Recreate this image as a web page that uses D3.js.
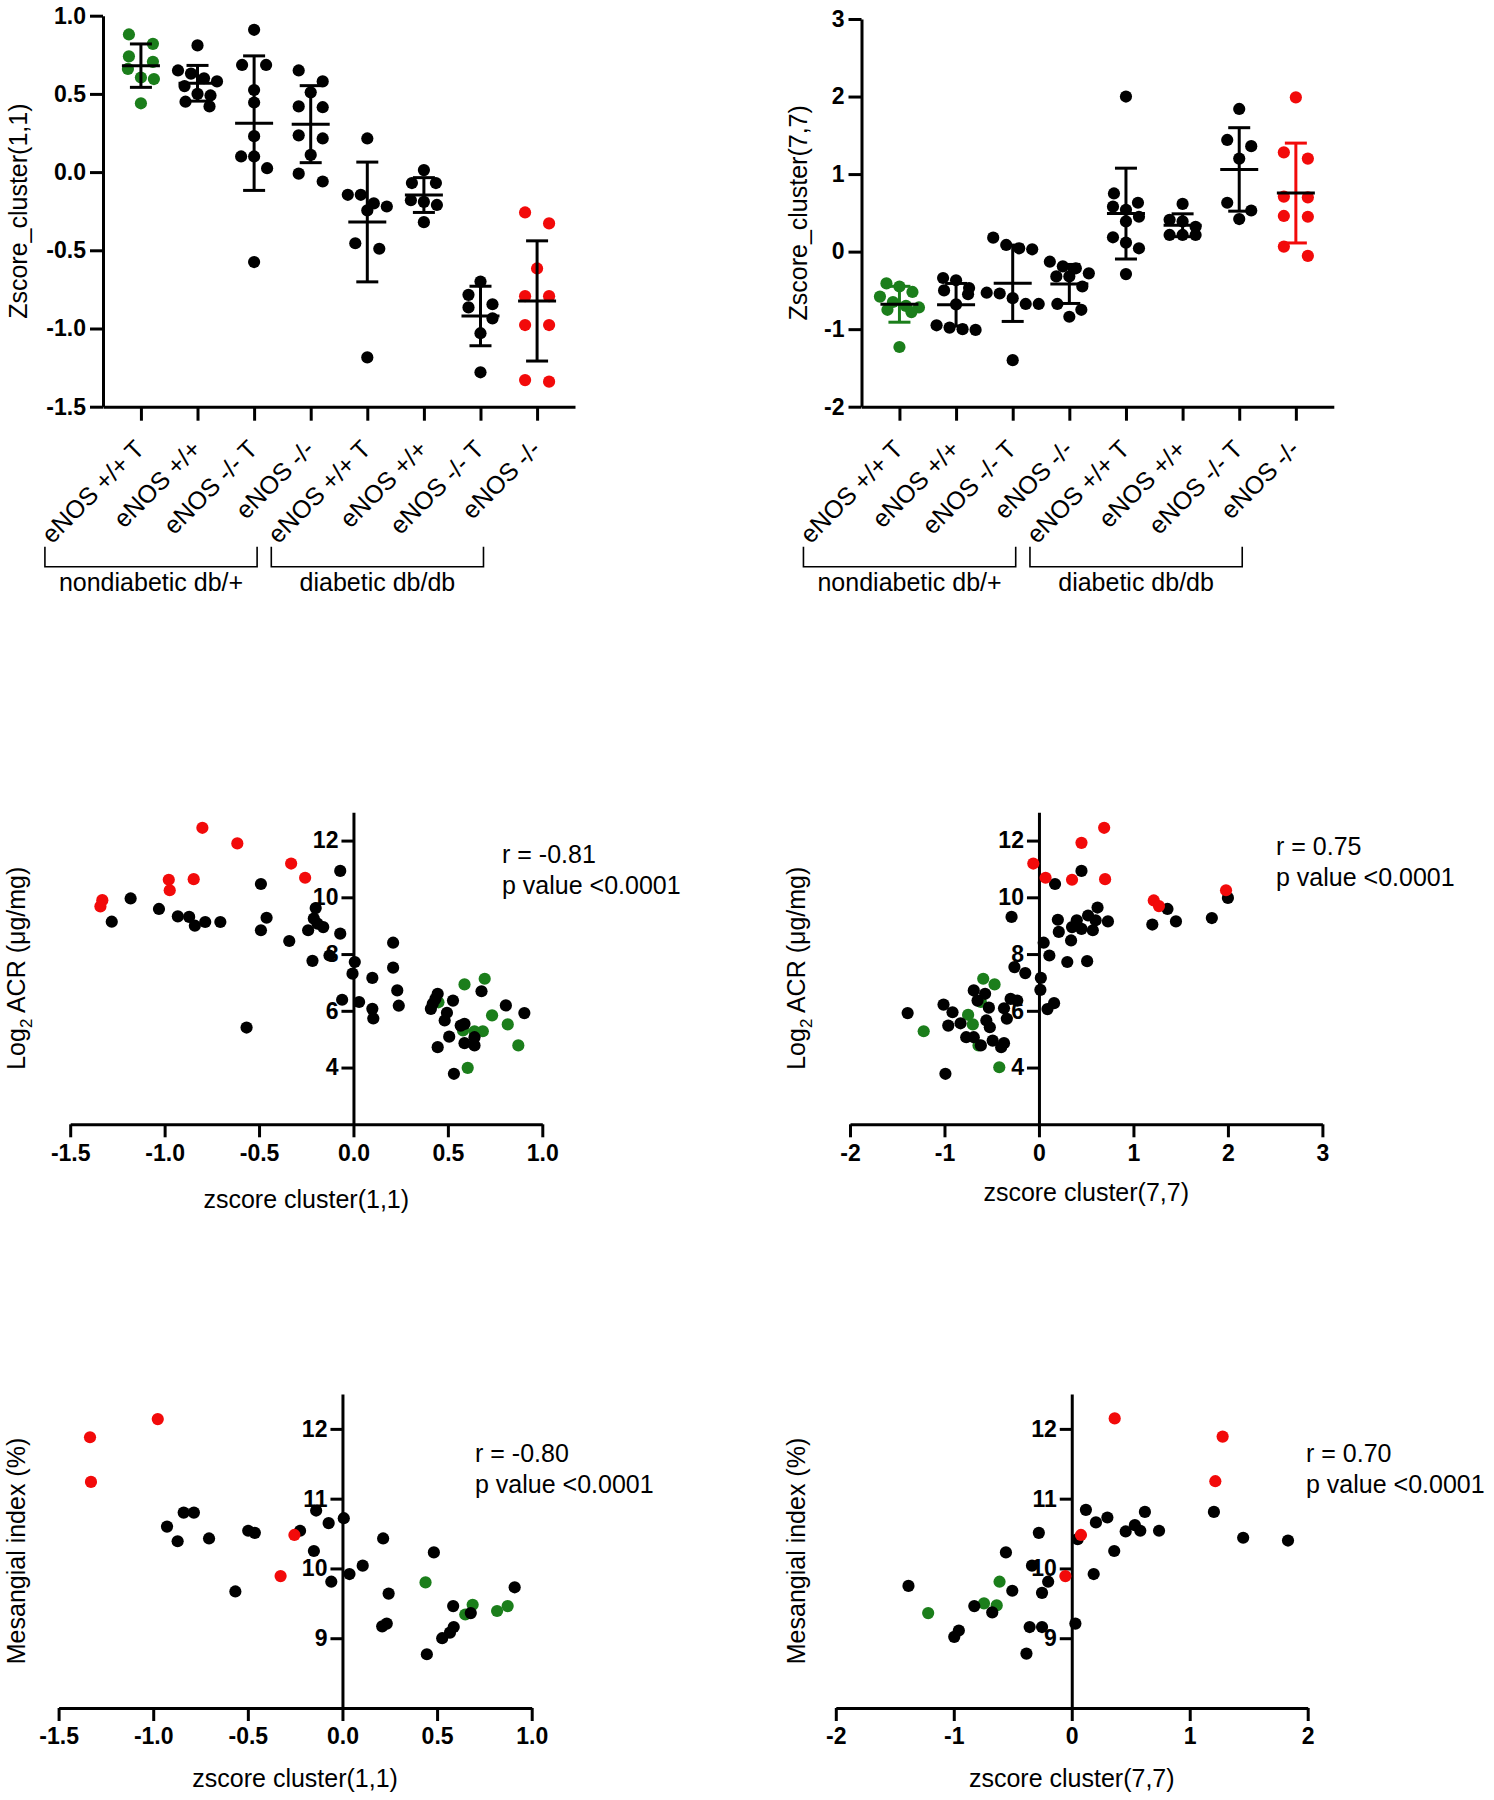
<!DOCTYPE html>
<html>
<head>
<meta charset="utf-8">
<script src="https://cdn.jsdelivr.net/npm/d3@7"></script>
<style>
  body { margin: 0; background: #fff; }
  svg { display: block; font-family: "Liberation Sans", Arial, sans-serif; }
  .axis { font-family: "Liberation Sans", Arial, sans-serif; }
  .axis path, .axis line { stroke: #000; stroke-width: 3; }
  .axis text { font-size: 23px; font-weight: bold; fill: #000; }
</style>
</head>
<body>
<svg id="fig" width="1494" height="1800"></svg>
<script>
const GREEN = "#1b7e1b", RED = "#f20a0a", BLACK = "#000";

// group dot plots
const groupLabels = ["eNOS +/+ T", "eNOS +/+", "eNOS -/- T", "eNOS -/-",
                     "eNOS +/+ T", "eNOS +/+", "eNOS -/- T", "eNOS -/-"];
const groupDots = [GREEN, BLACK, BLACK, BLACK, BLACK, BLACK, BLACK, RED];
const bracketLabels = ["nondiabetic db/+", "diabetic db/db"];

const cluster11 = [
  [0.88, 0.82, 0.74, 0.705, 0.66, 0.605, 0.595, 0.44],
  [0.81, 0.65, 0.63, 0.60, 0.58, 0.55, 0.50, 0.49, 0.45, 0.42],
  [0.91, 0.685, 0.685, 0.525, 0.445, 0.23, 0.10, 0.10, 0.025, -0.575],
  [0.65, 0.58, 0.51, 0.42, 0.415, 0.235, 0.215, 0.11, -0.01, -0.06],
  [0.215, -0.145, -0.145, -0.2, -0.22, -0.245, -0.455, -0.49, -1.185],
  [0.013, -0.07, -0.07, -0.18, -0.19, -0.21, -0.32],
  [-0.70, -0.785, -0.845, -0.865, -0.935, -1.03, -1.28],
  [-0.258, -0.328, -0.616, -0.793, -0.793, -0.978, -0.978, -1.34, -1.33]
];
const cluster77 = [
  [-0.41, -0.45, -0.52, -0.58, -0.65, -0.70, -0.72, -0.75, -0.78, -1.23],
  [-0.34, -0.37, -0.47, -0.50, -0.55, -0.68, -0.95, -0.98, -1.0, -1.01],
  [0.18, 0.086, 0.043, 0.03, -0.53, -0.54, -0.6, -0.675, -0.675, -1.40],
  [-0.13, -0.19, -0.215, -0.28, -0.32, -0.32, -0.45, -0.675, -0.75, -0.84],
  [2.0, 0.75, 0.63, 0.58, 0.54, 0.45, 0.39, 0.185, 0.116, 0.043, -0.29],
  [0.615, 0.41, 0.39, 0.32, 0.215, 0.215, 0.215],
  [1.84, 1.44, 1.36, 1.2, 0.63, 0.53, 0.42],
  [1.99, 1.28, 1.2, 0.71, 0.70, 0.46, 0.45, 0.065, -0.055]
];
const cluster11Ticks = [-1.5, -1.0, -0.5, 0.0, 0.5, 1.0];
const cluster77Ticks = [-2, -1, 0, 1, 2, 3];

// ACR scatter [zscore, log2 ACR]
const acr11Green = [[0.588, 6.93], [0.695, 7.13], [0.734, 5.84], [0.817, 5.52], [0.685, 5.28],
  [0.641, 5.28], [0.58, 5.31], [0.873, 4.78], [0.605, 3.99], [0.45, 6.3]];
const acr11Black = [[-0.07, 10.93], [-0.49, 10.47], [-1.18, 9.96], [-1.03, 9.59], [-0.93, 9.33],
  [-0.87, 9.31], [-0.84, 9.0], [-0.785, 9.13], [-0.705, 9.13], [-1.28, 9.14], [-0.46, 9.28],
  [-0.49, 8.84], [-0.34, 8.46], [-0.20, 9.62], [-0.21, 9.25], [-0.19, 9.07], [-0.24, 8.84],
  [-0.16, 8.95], [-0.07, 8.72], [-0.217, 7.76], [-0.127, 7.95], [0.007, 7.72], [-0.005, 7.31],
  [0.10, 7.16], [0.21, 8.4], [0.21, 7.52], [0.232, 6.72], [0.24, 6.18], [-0.06, 6.39],
  [0.03, 6.31], [0.10, 6.07], [0.105, 5.73], [-0.566, 5.41], [0.446, 6.6], [0.434, 6.42],
  [0.42, 6.25], [0.41, 6.07], [0.527, 6.36], [0.495, 5.93], [0.483, 5.66], [0.568, 5.48],
  [0.588, 5.54], [0.678, 6.69], [0.807, 6.19], [0.905, 5.92], [0.507, 5.09], [0.446, 4.72],
  [0.588, 4.86], [0.641, 5.07], [0.641, 4.78], [0.532, 3.78]];
const acr11Red = [[-0.80, 12.45], [-0.615, 11.9], [-0.33, 11.19], [-0.256, 10.69], [-0.978, 10.62],
  [-0.846, 10.64], [-0.973, 10.25], [-1.33, 9.9], [-1.34, 9.68]];

const acr77Green = [[-0.59, 7.13], [-0.47, 6.93], [-0.75, 5.86], [-0.70, 5.52], [-1.22, 5.28],
  [-0.64, 4.78], [-0.42, 4.01], [-0.615, 6.31]];
const acr77Black = [[0.45, 10.93], [0.17, 10.47], [2.0, 9.98], [1.36, 9.59], [1.45, 9.15],
  [1.83, 9.27], [1.20, 9.04], [-0.29, 9.31], [0.62, 9.64], [0.52, 9.36], [0.6, 9.19],
  [0.73, 9.15], [0.40, 9.19], [0.2, 9.21], [0.21, 8.78], [0.35, 8.95], [0.45, 8.89],
  [0.57, 8.84], [0.34, 8.48], [0.05, 8.4], [0.11, 7.95], [0.30, 7.72], [0.51, 7.75],
  [-0.26, 7.54], [-0.145, 7.33], [0.02, 7.16], [0.015, 6.74], [0.16, 6.27], [0.09, 6.06],
  [-0.30, 6.42], [-0.23, 6.36], [-0.37, 6.09], [-0.34, 5.72], [-0.53, 6.11], [-0.57, 6.6],
  [-0.69, 6.72], [-0.65, 6.36], [-1.01, 6.22], [-0.915, 5.95], [-1.39, 5.92], [-0.96, 5.48],
  [-0.83, 5.56], [-0.557, 5.66], [-0.52, 5.42], [-0.77, 5.07], [-0.69, 5.07], [-0.615, 4.78],
  [-0.49, 4.95], [-0.37, 4.86], [-0.4, 4.72], [-0.99, 3.78]];
const acr77Red = [[0.69, 12.45], [0.45, 11.92], [-0.06, 11.19], [0.07, 10.69], [0.35, 10.62],
  [0.70, 10.64], [1.98, 10.25], [1.215, 9.89], [1.27, 9.69]];

// mesangial index scatter [zscore, %]
const mes11Green = [[0.439, 9.8], [0.649, 9.34], [0.688, 9.48], [0.817, 9.39], [0.873, 9.46]];
const mes11Black = [[-0.927, 10.6], [-0.839, 10.8], [-0.785, 10.8], [-0.871, 10.39], [-0.705, 10.43],
  [-0.498, 10.54], [-0.463, 10.51], [-0.224, 10.54], [-0.139, 10.83], [-0.073, 10.65],
  [0.007, 10.72], [-0.151, 10.25], [0.107, 10.04], [0.037, 9.92], [-0.059, 9.81],
  [-0.566, 9.67], [0.215, 10.43], [0.244, 9.64], [0.21, 9.17], [0.234, 9.21], [0.483, 10.23],
  [0.446, 8.77], [0.527, 9.0], [0.568, 9.08], [0.588, 9.16], [0.585, 9.46], [0.678, 9.36],
  [0.91, 9.73]];
const mes11Red = [[-1.334, 11.88], [-1.329, 11.24], [-0.976, 12.14], [-0.254, 10.48], [-0.327, 9.89]];

const mes77Green = [[-0.612, 9.81], [-0.744, 9.5], [-0.636, 9.47], [-1.217, 9.36]];
const mes77Black = [[1.205, 10.81], [1.453, 10.44], [1.833, 10.40], [0.12, 10.84], [0.205, 10.66],
  [0.302, 10.73], [0.457, 10.53], [0.535, 10.62], [0.581, 10.54], [0.62, 10.81], [0.74, 10.54],
  [0.05, 10.42], [0.36, 10.25], [0.186, 9.92], [-0.279, 10.51], [-0.558, 10.23],
  [-0.337, 10.04], [-0.2, 9.81], [-0.252, 9.65], [-0.504, 9.68], [0.031, 9.21],
  [-0.357, 9.16], [-0.252, 9.16], [-0.384, 8.78], [-0.957, 9.11], [-0.996, 9.02],
  [-1.384, 9.75], [-0.826, 9.46], [-0.674, 9.37]];
const mes77Red = [[0.364, 12.15], [1.279, 11.89], [1.217, 11.25], [0.078, 10.48], [-0.054, 9.89]];

const svg = d3.select("#fig");
const R = 6.1;
const FS = 25;

// GraphPad-like horizontal spread: rows of overlapping dots, centred
function swarm(py) {
  const idx = d3.range(py.length).sort((a, b) => py[a] - py[b]);
  const off = new Array(py.length).fill(0);
  let row = [];
  const flush = () => {
    const n = row.length, sp = n === 2 ? 24 : 13;
    row.forEach((k, j) => (off[k] = (j - (n - 1) / 2) * sp));
    row = [];
  };
  for (const k of idx) {
    if (row.length && py[k] - py[row[0]] >= 2 * R) flush();
    row.push(k);
  }
  flush();
  return off;
}

function yTitle(g, x, cy, parts) {
  const t = g.append("text")
    .attr("transform", `translate(${x},${cy}) rotate(-90)`)
    .attr("text-anchor", "middle")
    .attr("font-size", FS);
  parts.forEach((p) => {
    const s = t.append("tspan").text(p.text);
    if (p.sub) s.attr("font-size", 17).attr("dy", 7);
    if (p.after) s.attr("dy", -7);
  });
}

function dotPlot(o) {
  const g = svg.append("g");
  const x = d3.scalePoint().domain(d3.range(groupLabels.length)).range(o.xRange).padding(0.67);
  const y = d3.scaleLinear().domain(o.yDomain).range(o.yRange);
  const base = y(o.yDomain[0]);

  g.append("g").attr("class", "axis").attr("transform", `translate(0,${base})`)
    .call(d3.axisBottom(x).tickSize(14).tickSizeOuter(0).tickFormat(""));
  g.append("g").attr("class", "axis").attr("transform", `translate(${o.xRange[0]},0)`)
    .call(d3.axisLeft(y).tickValues(o.yTicks).tickSize(13).tickPadding(4)
      .tickSizeOuter(0).tickFormat(o.yFormat));

  g.selectAll(".cat").data(groupLabels).join("text")
    .attr("class", "cat")
    .attr("transform", (d, i) => `translate(${x(i) + 5},${base + 44}) rotate(-45)`)
    .attr("text-anchor", "end")
    .attr("font-size", FS)
    .text((d) => d);

  // group brackets under the labels
  [[0, 2], [4, 6]].forEach(([a, b], k) => {
    const x0 = x(a) - 96, x1 = x(b) + 3;
    g.append("path")
      .attr("d", `M${x0},${base + 140}V${base + 160}H${x1}V${base + 140}`)
      .attr("fill", "none").attr("stroke", "#000").attr("stroke-width", 1.6);
    g.append("text").attr("x", (x0 + x1) / 2).attr("y", base + 184)
      .attr("text-anchor", "middle").attr("font-size", FS).text(bracketLabels[k]);
  });

  o.values.forEach((vals, i) => {
    const offs = swarm(vals.map(y));
    g.append("g").selectAll("circle").data(vals).join("circle")
      .attr("cx", (d, j) => x(i) + offs[j])
      .attr("cy", (d) => y(d))
      .attr("r", R)
      .attr("fill", groupDots[i]);
  });

  o.values.forEach((vals, i) => {
    const m = d3.mean(vals), s = d3.deviation(vals), cx = x(i), c = o.barColors[i];
    const b = g.append("g").attr("stroke-width", 3).attr("fill", "none");
    b.append("line").attr("x1", cx).attr("x2", cx).attr("y1", y(m - s)).attr("y2", y(m + s)).attr("stroke", c);
    [m - s, m + s].forEach((v) =>
      b.append("line").attr("x1", cx - 11).attr("x2", cx + 11).attr("y1", y(v)).attr("y2", y(v)).attr("stroke", c));
    b.append("line").attr("x1", cx - 19).attr("x2", cx + 19).attr("y1", y(m)).attr("y2", y(m)).attr("stroke", BLACK);
  });

  yTitle(g, o.titleX, (o.yRange[0] + o.yRange[1]) / 2, [{ text: o.title }]);
}

function scatter(o) {
  const g = svg.append("g");
  const x = d3.scaleLinear().domain(o.xDomain).range(o.xRange);
  const y = d3.scaleLinear().domain(o.yDomain).range(o.yRange);

  g.append("g").attr("class", "axis").attr("transform", `translate(0,${y(o.yDomain[0])})`)
    .call(d3.axisBottom(x).tickValues(o.xTicks).tickSize(13).tickPadding(7)
      .tickSizeOuter(0).tickFormat(o.xFormat));
  g.append("g").attr("class", "axis").attr("transform", `translate(${x(0)},0)`)
    .call(d3.axisLeft(y).tickValues(o.yTicks).tickSize(12).tickPadding(3)
      .tickSizeOuter(0).tickFormat((d) => String(d)));

  [[o.green, GREEN], [o.black, BLACK], [o.red, RED]].forEach(([pts, c]) => {
    g.append("g").selectAll("circle").data(pts).join("circle")
      .attr("cx", (d) => x(d[0]))
      .attr("cy", (d) => y(d[1]))
      .attr("r", R)
      .attr("fill", c);
  });

  g.append("text").attr("x", d3.mean(o.xRange)).attr("y", o.xTitleY)
    .attr("text-anchor", "middle").attr("font-size", FS).text(o.xTitle);
  yTitle(g, o.titleX, d3.mean(o.yRange), o.yTitle);

  g.append("text").attr("x", o.note[0]).attr("y", o.note[1]).attr("font-size", FS).text(o.r);
  g.append("text").attr("x", o.note[0]).attr("y", o.note[1] + 31).attr("font-size", FS).text("p value <0.0001");
}

const fmt1 = (d) => d.toFixed(1);
const fmt0 = (d) => String(d);
const acrTitle = [{ text: "Log" }, { text: "2", sub: true }, { text: " ACR (μg/mg)", after: true }];
const mesTitle = [{ text: "Mesangial index (%)" }];

dotPlot({
  xRange: [103, 575], yDomain: [-1.5, 1.0], yRange: [406.7, 15.7],
  yTicks: cluster11Ticks, yFormat: fmt1, values: cluster11,
  barColors: cluster11.map(() => BLACK),
  title: "Zscore_cluster(1,1)", titleX: 27
});
dotPlot({
  xRange: [861.5, 1333.8], yDomain: [-2, 3], yRange: [406.7, 19],
  yTicks: cluster77Ticks, yFormat: fmt0, values: cluster77,
  barColors: [GREEN, BLACK, BLACK, BLACK, BLACK, BLACK, BLACK, RED],
  title: "Zscore_cluster(7,7)", titleX: 807
});

scatter({
  xDomain: [-1.5, 1.0], xRange: [70.2, 542.3], xTicks: cluster11Ticks, xFormat: fmt1,
  yDomain: [2, 13], yRange: [1124.3, 812.2], yTicks: [4, 6, 8, 10, 12],
  green: acr11Green, black: acr11Black, red: acr11Red,
  xTitle: "zscore cluster(1,1)", xTitleY: 1208, yTitle: acrTitle, titleX: 25,
  r: "r = -0.81", note: [502, 863]
});
scatter({
  xDomain: [-2, 3], xRange: [850, 1322.4], xTicks: cluster77Ticks, xFormat: fmt0,
  yDomain: [2, 13], yRange: [1124.3, 812.2], yTicks: [4, 6, 8, 10, 12],
  green: acr77Green, black: acr77Black, red: acr77Red,
  xTitle: "zscore cluster(7,7)", xTitleY: 1201, yTitle: acrTitle, titleX: 805,
  r: "r = 0.75", note: [1276, 855]
});
scatter({
  xDomain: [-1.5, 1.0], xRange: [58.6, 531.7], xTicks: cluster11Ticks, xFormat: fmt1,
  yDomain: [8, 12.5], yRange: [1708, 1394], yTicks: [9, 10, 11, 12],
  green: mes11Green, black: mes11Black, red: mes11Red,
  xTitle: "zscore cluster(1,1)", xTitleY: 1787, yTitle: mesTitle, titleX: 25,
  r: "r = -0.80", note: [475, 1462]
});
scatter({
  xDomain: [-2, 2], xRange: [835.8, 1307.7], xTicks: [-2, -1, 0, 1, 2], xFormat: fmt0,
  yDomain: [8, 12.5], yRange: [1708, 1394], yTicks: [9, 10, 11, 12],
  green: mes77Green, black: mes77Black, red: mes77Red,
  xTitle: "zscore cluster(7,7)", xTitleY: 1787, yTitle: mesTitle, titleX: 805,
  r: "r = 0.70", note: [1306, 1462]
});
</script>
</body>
</html>
